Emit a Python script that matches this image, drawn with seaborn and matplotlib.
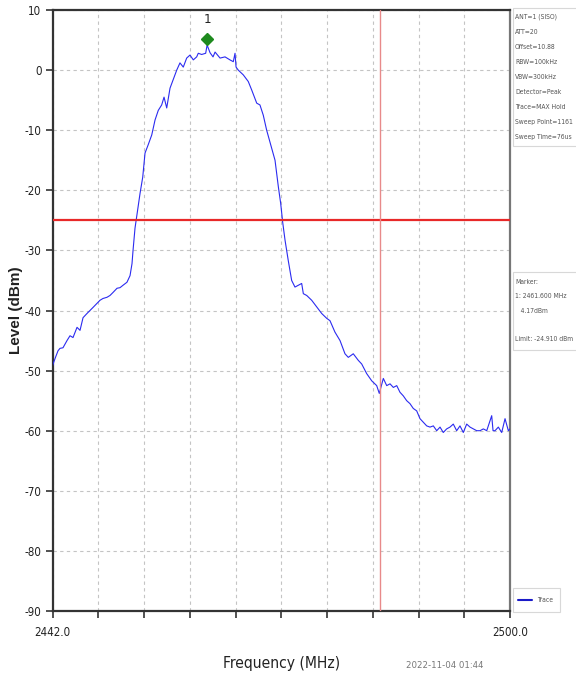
import numpy as np
import pandas as pd
import matplotlib
matplotlib.use("Agg")
import matplotlib.pyplot as plt
import matplotlib.transforms as mtransforms
from matplotlib import font_manager as fm
from matplotlib.patches import Rectangle
from matplotlib.lines import Line2D
import seaborn as sns

# ---- spectrum trace (MHz, dBm) ----
freq_mhz = [
    2442.00, 2442.32, 2442.70, 2442.95, 2443.33, 2443.84, 2444.22, 2444.60, 2445.11, 2445.49,
    2445.87, 2446.37, 2446.75, 2447.13, 2447.64, 2448.02, 2448.40, 2448.91, 2449.29, 2449.67,
    2450.18, 2450.56, 2450.94, 2451.44, 2451.83, 2452.08, 2452.21, 2452.46, 2452.75, 2453.10,
    2453.44, 2453.73, 2454.11, 2454.58, 2455.00, 2455.41, 2455.84, 2456.14, 2456.48, 2456.90,
    2457.24, 2457.75, 2458.16, 2458.58, 2459.01, 2459.43, 2459.85, 2460.28, 2460.48, 2460.91,
    2461.42, 2461.60, 2461.97, 2462.35, 2462.61, 2463.24, 2463.87, 2464.50, 2464.92, 2465.14,
    2465.27, 2465.55, 2466.19, 2466.82, 2467.25, 2467.89, 2468.30, 2468.72, 2469.15, 2469.79,
    2470.21, 2470.63, 2470.93, 2471.18, 2471.48, 2471.89, 2472.32, 2472.74, 2473.16, 2473.59,
    2473.80, 2474.23, 2474.86, 2475.49, 2476.13, 2476.76, 2477.18, 2477.81, 2478.45, 2479.08,
    2479.50, 2480.13, 2480.77, 2481.20, 2481.83, 2482.47, 2483.10, 2483.43, 2483.94, 2484.37,
    2484.79, 2485.21, 2485.64, 2486.05, 2486.47, 2486.90, 2487.32, 2487.74, 2488.17, 2488.59,
    2489.01, 2489.44, 2489.86, 2490.28, 2490.71, 2491.13, 2491.54, 2491.97, 2492.39, 2492.81,
    2493.24, 2493.66, 2494.08, 2494.51, 2494.93, 2495.35, 2495.78, 2496.20, 2496.62, 2497.05,
    2497.68, 2497.85, 2498.10, 2498.52, 2498.95, 2499.37, 2499.79, 2500.00,
]
level_dbm = [
    -49.2, -48.0, -46.7, -46.3, -46.2, -45.0, -44.2, -44.5, -42.8, -43.3,
    -41.2, -40.5, -40.0, -39.5, -38.8, -38.3, -38.0, -37.8, -37.5, -37.0,
    -36.3, -36.2, -35.8, -35.3, -34.2, -32.2, -30.0, -26.3, -23.7, -20.5,
    -17.8, -13.8, -12.5, -10.8, -8.3, -6.7, -5.8, -4.5, -6.3, -3.0,
    -1.8, 0.0, 1.2, 0.5, 2.0, 2.5, 1.7, 2.2, 2.8, 2.6,
    2.8, 4.17, 2.9, 2.2, 3.0, 2.0, 2.2, 1.7, 1.4, 2.8,
    0.5, 0.0, -0.8, -1.9, -3.3, -5.5, -5.8, -7.5, -10.0, -13.0,
    -15.0, -19.4, -22.2, -25.3, -28.3, -31.7, -35.0, -36.1, -35.8, -35.5,
    -37.2, -37.5, -38.3, -39.4, -40.5, -41.3, -41.7, -43.6, -45.0, -47.2,
    -47.8, -47.2, -48.3, -48.9, -50.5, -51.7, -52.5, -53.8, -51.3, -52.5,
    -52.2, -52.8, -52.5, -53.6, -54.2, -55.0, -55.5, -56.3, -56.7, -58.0,
    -58.6, -59.2, -59.4, -59.2, -60.0, -59.4, -60.3, -59.7, -59.4, -58.9,
    -60.0, -59.2, -60.3, -58.9, -59.4, -59.7, -60.0, -60.0, -59.7, -60.0,
    -57.5, -60.0, -60.0, -59.4, -60.3, -58.0, -60.0, -59.7,
]

# ---- markers / limits ----
marker_freq = 2461.600
marker_level = 4.17
limit_level = -24.910
edge_freq = 2483.5

# ---- axes ----
x_start, x_stop = 2442.0, 2500.0
x_ticks = list(np.linspace(x_start, x_stop, 11))
x_tick_labels = ["2442.0", "", "", "", "", "", "", "", "", "", "2500.0"]
y_ticks = [10, 0, -10, -20, -30, -40, -50, -60, -70, -80, -90]

info_lines = [
    "ANT=1 (SISO)", "ATT=20", "Offset=10.88", "RBW=100kHz", "VBW=300kHz",
    "Detector=Peak", "Trace=MAX Hold", "Sweep Point=1161", "Sweep Time=76us",
]
marker_lines = ["Marker:", "1: 2461.600 MHz", "   4.17dBm", "", "Limit: -24.910 dBm"]
timestamp = "2022-11-04 01:44"

sns.set_style("white")

# prefer a condensed face for the instrument-style annotations
have_condensed = any(f.name == "DejaVu Sans" and f.stretch == "condensed"
                     for f in fm.fontManager.ttflist)
have_narrow = any(f.name == "Liberation Sans Narrow" for f in fm.fontManager.ttflist)
if have_narrow:
    narrow = dict(family="Liberation Sans Narrow")
elif have_condensed:
    narrow = dict(family="DejaVu Sans", stretch="condensed")
else:
    narrow = dict(family="Liberation Sans")
plt.rcParams["font.family"] = ["Liberation Sans", "DejaVu Sans"]

W, H = 576, 677
fig = plt.figure(figsize=(W / 100, H / 100), dpi=100)
ax = fig.add_axes([52.5 / W, 1 - 611 / H, (510 - 52.5) / W, (611 - 10) / H])

df = pd.DataFrame({"Frequency": freq_mhz, "Level": level_dbm})
sns.lineplot(data=df, x="Frequency", y="Level", ax=ax, color="#2b2bf0",
             linewidth=0.8, zorder=3)

ax.set_xlim(x_start, x_stop)
ax.set_ylim(-90, 10)
ax.set_xticks(x_ticks)
ax.set_xticklabels(x_tick_labels, **narrow)
ax.set_yticks(y_ticks)
ax.set_yticklabels([str(v) for v in y_ticks], **narrow)
ax.grid(True, color="#c4c4c4", linestyle=(0, (3, 3)), linewidth=0.8)
ax.tick_params(axis="both", direction="out", length=5, width=1.2,
               color="#333333", labelsize=8.3, labelcolor="#222222", pad=3)
ax.tick_params(axis="x", pad=6)
ax.tick_params(left=True, bottom=True)

for side in ("left", "bottom", "top"):
    ax.spines[side].set_color("#333333")
    ax.spines[side].set_linewidth(1.6)
ax.spines["right"].set_color("#777777")
ax.spines["right"].set_linewidth(1.6)

# limit line and band edge
ax.axhline(limit_level, color="#e82828", linewidth=1.6, zorder=4)
ax.axvline(edge_freq, color="#e88a8a", linewidth=1.0, zorder=4)

# peak marker: diamond resting on the marker point
up = mtransforms.offset_copy(ax.transData, fig=fig, x=0, y=6, units="dots")
ax.plot([marker_freq], [marker_level], marker="D", markersize=6,
        color="#1e8a1e", transform=up, zorder=5, clip_on=False)
lab = mtransforms.offset_copy(ax.transData, fig=fig, x=0, y=19, units="dots")
ax.text(marker_freq, marker_level, "1", transform=lab, ha="center",
        va="bottom", fontsize=9.5, color="#222222", **narrow)

ax.set_xlabel("Frequency (MHz)", fontsize=11.2, color="#222222",
              labelpad=12, **narrow)
ax.set_ylabel("Level (dBm)", fontsize=11, fontweight="bold",
              color="#222222")
ax.yaxis.set_label_coords((23 - 52.5) / (510 - 52.5), 0.5)

side_texts = []

# settings panel
fig.patches.append(Rectangle((513 / W, 1 - 146 / H), 70 / W, 138 / H,
                             transform=fig.transFigure, facecolor="white",
                             edgecolor="#d8d8d8", linewidth=0.8))
for i, line in enumerate(info_lines):
    side_texts.append(fig.text(515 / W, 1 - (17 + 15 * i) / H, line,
                               color="#555555", va="center", ha="left", **narrow))

# marker panel
fig.patches.append(Rectangle((513 / W, 1 - 350 / H), 70 / W, 78 / H,
                             transform=fig.transFigure, facecolor="white",
                             edgecolor="#d8d8d8", linewidth=0.8))
for i, line in enumerate(marker_lines):
    if line:
        side_texts.append(fig.text(515 / W, 1 - (282 + 14.3 * i) / H, line,
                                   color="#555555", va="center", ha="left", **narrow))

# legend
fig.patches.append(Rectangle((513 / W, 1 - 612 / H), 47 / W, 24 / H,
                             transform=fig.transFigure, facecolor="white",
                             edgecolor="#d8d8d8", linewidth=0.8))
fig.lines.append(Line2D([518 / W, 532 / W], [1 - 600 / H, 1 - 600 / H],
                        transform=fig.transFigure, color="#1a1ac8",
                        linewidth=1.5))
side_texts.append(fig.text(537 / W, 1 - 600 / H, "Trace", color="#555555",
                           va="center", ha="left", **narrow))

# one common size for the side panels: the largest at which every
# settings line fits the canvas; the limit line may step down a little more
renderer = fig.canvas.get_renderer()
n_info = len(info_lines)
size = 6.0
while size > 4.0:
    for t in side_texts[:n_info]:
        t.set_fontsize(size)
    if max(t.get_window_extent(renderer).x1 for t in side_texts[:n_info]) <= W - 1:
        break
    size -= 0.1
for t in side_texts[n_info:]:
    s = size
    t.set_fontsize(s)
    while s > 4.0 and t.get_window_extent(renderer).x1 > W - 1:
        s -= 0.1
        t.set_fontsize(s)

fig.text(445 / W, 1 - 665 / H, timestamp, fontsize=6.8,
         color="#777777", va="center", ha="center", **narrow)

fig.savefig("out.png", dpi=100, facecolor="white")
